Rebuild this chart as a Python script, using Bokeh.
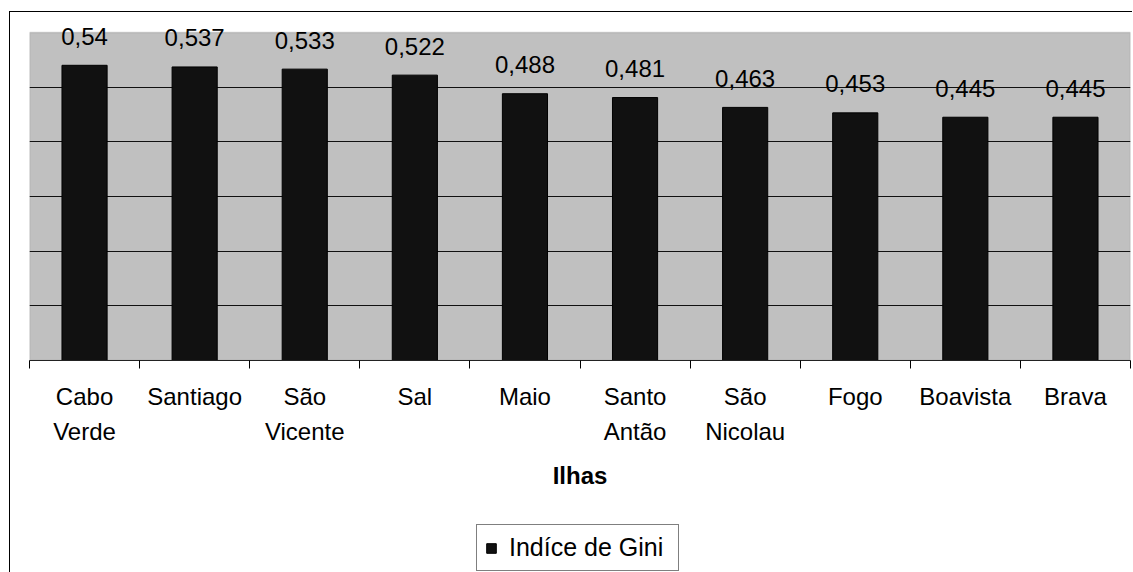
import numpy as np
from bokeh.plotting import figure
from bokeh.layouts import column
from bokeh.core.properties import value
from bokeh.models import (Range1d, FixedTicker, LinearAxis, Legend, LegendItem,
                          ColumnDataSource, Grid, BoxAnnotation)
from bokeh.embed import file_html
from bokeh.resources import INLINE

# ---- data ----
islands = ["Cabo\nVerde", "Santiago", "São\nVicente", "Sal", "Maio",
           "Santo\nAntão", "São\nNicolau", "Fogo", "Boavista", "Brava"]
gini = [0.54, 0.537, 0.533, 0.522, 0.488, 0.481, 0.463, 0.453, 0.445, 0.445]
y_max = 0.6
grid_ticks = [0.1, 0.2, 0.3, 0.4, 0.5]
series_name = "Indíce de Gini"
x_title = "Ilhas"

FONT = "Liberation Sans"
FS = "24px"
BAR = "#111111"

n = len(islands)
xs = [i + 0.5 for i in range(n)]
labels = [str(v).replace(".", ",") for v in gini]
src = ColumnDataSource(dict(x=xs, top=gini, lab=labels))

PLOT_H = 328          # pixel height of the grey plot area (0 .. y_max)
HEAD = 12             # white headroom above it for the value labels
p = figure(frame_width=1101, frame_height=PLOT_H + HEAD, output_backend="svg",
           toolbar_location=None,
           x_range=Range1d(0, n), y_range=Range1d(0, y_max * (PLOT_H + HEAD) / PLOT_H),
           min_border_left=19, min_border_top=20 - HEAD, min_border_right=2,
           min_border_bottom=0, x_axis_type=None, y_axis_type=None)
p.background_fill_color = "white"
p.border_fill_color = "white"
p.outline_line_color = None

area = BoxAnnotation(bottom=0, top=y_max, fill_color="#C0C0C0", fill_alpha=1,
                     line_color="#808080", line_width=1.5, level="underlay")
p.add_layout(area)

grid = Grid(dimension=1, ticker=FixedTicker(ticks=grid_ticks),
            grid_line_color="#111111", grid_line_width=1, level="underlay")
p.add_layout(grid, "center")

r = p.vbar(x="x", top="top", width=0.41, source=src, fill_color=BAR,
           line_color="#000000", line_width=1)

p.text(x="x", y="top", text="lab", source=src, text_align="center",
       text_baseline="alphabetic", y_offset=-29, text_font=value(FONT),
       text_font_size=value(FS), text_color="black")

xaxis = LinearAxis(ticker=FixedTicker(ticks=xs, minor_ticks=list(range(n + 1))))
xaxis.major_label_overrides = {x: lab for x, lab in zip(xs, islands)}
xaxis.major_tick_out = 0
xaxis.major_tick_in = 0
xaxis.major_tick_line_color = None
xaxis.minor_tick_out = 8
xaxis.minor_tick_in = 0
xaxis.minor_tick_line_color = "black"
xaxis.axis_line_color = "#222222"
xaxis.major_label_text_font = FONT
xaxis.major_label_text_font_size = FS
xaxis.major_label_text_color = "black"
xaxis.major_label_text_line_height = 1.3
xaxis.major_label_standoff = 14
xaxis.axis_label = x_title
xaxis.axis_label_text_font = FONT
xaxis.axis_label_text_font_size = FS
xaxis.axis_label_text_font_style = "bold"
xaxis.axis_label_text_color = "black"
xaxis.axis_label_standoff = 14
p.add_layout(xaxis, "below")

# legend strip below the chart (its bars lie outside the visible y range,
# only the legend swatch is shown)
p2 = figure(width=1122, height=81, output_backend="svg", toolbar_location=None,
            x_range=Range1d(0, n), y_range=Range1d(10, 11),
            min_border=0, x_axis_type=None, y_axis_type=None)
p2.outline_line_color = None
p2.background_fill_color = "white"
p2.border_fill_color = "white"
r2 = p2.vbar(x="x", top="top", width=0.41, source=src, fill_color=BAR,
             line_color="#000000")

legend = Legend(items=[LegendItem(label=series_name, renderers=[r2], index=0)],
                location=(447, 1), orientation="horizontal")
legend.label_text_font = FONT
legend.label_text_font_size = "25px"
legend.label_text_color = "black"
legend.label_height = 24
legend.label_width = 161
legend.glyph_width = 12
legend.glyph_height = 12
legend.label_standoff = 12
legend.padding = 8
legend.margin = 0
legend.border_line_color = "black"
legend.border_line_width = 1
legend.background_fill_color = "white"
legend.background_fill_alpha = 1
p2.add_layout(legend, "center")

layout = column(p, p2, spacing=0)
layout.styles = {"border-top": "1px solid #000", "border-left": "1px solid #000",
                 "margin-top": "11px", "margin-left": "9px"}

open("out.html", "w").write(file_html(layout, INLINE))
